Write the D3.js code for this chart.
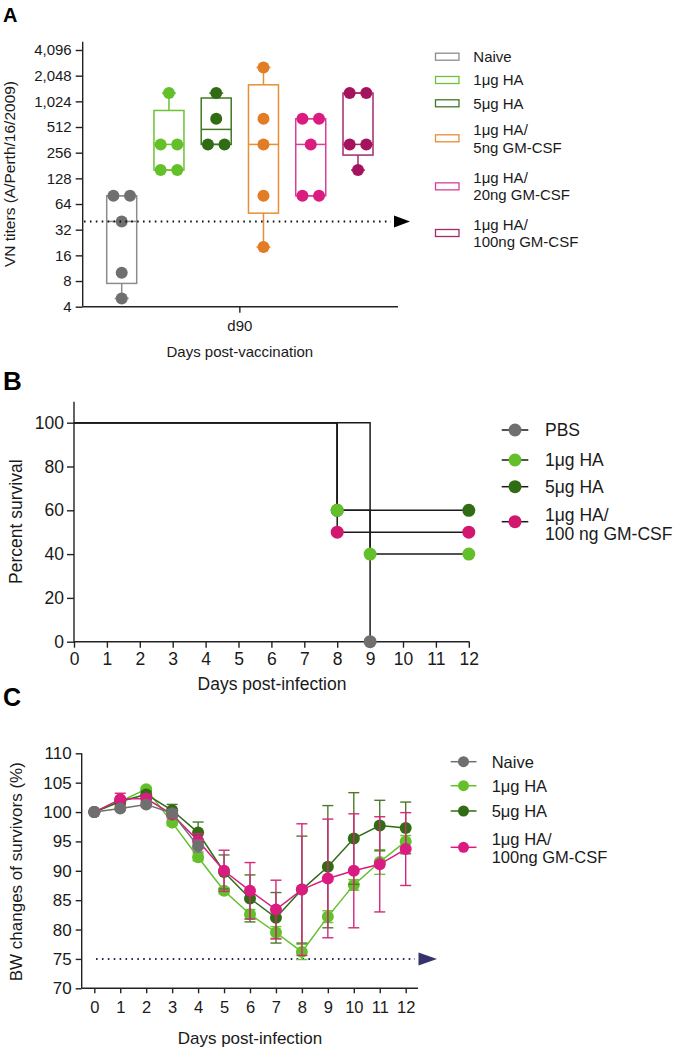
<!DOCTYPE html>
<html><head><meta charset="utf-8">
<script src="https://cdn.jsdelivr.net/npm/d3@7"></script>
<style>
html,body{margin:0;padding:0;background:#fff;}
text{font-family:"Liberation Sans",Arial,sans-serif;fill:#1a1a1a;}
</style></head>
<body><svg id="c" width="682" height="1050"></svg>
<script>
// ---------- Panel A data ----------
const groupsA = ["Naive","1μg HA","5μg HA","1μg HA/5ng GM-CSF","1μg HA/20ng GM-CSF","1μg HA/100ng GM-CSF"];
const legendA = [["Naive"],["1μg HA"],["5μg HA"],["1μg HA/","5ng GM-CSF"],["1μg HA/","20ng GM-CSF"],["1μg HA/","100ng GM-CSF"]];
const titersNaive = [80,80,40,10,5];
const titers1HA = [1280,320,320,160,160];
const titers5HA = [1280,640,320,320];
const titers5ng = [2560,640,320,80,20];
const titers20ng = [640,640,320,80,80];
const titers100ng = [1280,1280,320,320,160];
const titersA = [titersNaive,titers1HA,titers5HA,titers5ng,titers20ng,titers100ng];
const yTicksA = [4,8,16,32,64,128,256,512,1024,2048,4096];
const cutoffA = 40;
const xLabelA = "d90";

// ---------- Panel B data ----------
const seriesB = ["PBS","1μg HA","5μg HA","1μg HA/100 ng GM-CSF"];
const legendB = [["PBS"],["1μg HA"],["5μg HA"],["1μg HA/","100 ng GM-CSF"]];
const daysPBS = [0,9];      const survPBS = [100,0];
const days1HA = [0,8,9,12]; const surv1HA = [100,60,40,40];
const days5HA = [0,8,12];   const surv5HA = [100,60,60];
const days100 = [0,8,12];   const surv100 = [100,50,50];
const xTicksB = [0,1,2,3,4,5,6,7,8,9,10,11,12];
const yTicksB = [0,20,40,60,80,100];

// ---------- Panel C data ----------
const seriesC = ["Naive","1μg HA","5μg HA","1μg HA/100ng GM-CSF"];
const legendC = [["Naive"],["1μg HA"],["5μg HA"],["1μg HA/","100ng GM-CSF"]];
const daysC = [0,1,2,3,4,5,6,7,8,9,10,11,12];
const bwNaive = [100,100.6,101.3,99.8,94.2];
const sdNaive = [0,0.3,0.4,0.6,1.0];
const bw1HA = [100,101.8,103.9,98.2,92.3,86.6,82.6,79.5,76.2,82.2,87.6,91.5,95.0];
const sd1HA = [0,0.5,0.3,0.5,0.6,0.5,0.8,1.0,1.3,1.0,0.9,2.1,1.0];
const bw5HA = [100,101.8,103.0,100.3,96.5,89.8,85.3,82.0,86.8,90.7,95.5,97.7,97.3];
const sd5HA = [0,0.6,0.5,1.0,1.8,2.9,4.0,4.3,9.1,10.4,7.8,4.3,4.4];
const bw100 = [100,102.2,102.3,99.6,95.1,90.0,86.6,83.4,86.8,88.7,90.0,91.1,93.7];
const sd100 = [0,1.0,0.7,0.6,1.2,3.5,4.8,5.0,11.2,10.1,9.7,8.1,6.2];
const yTicksC = [70,75,80,85,90,95,100,105,110];
const cutoffC = 75;

// ---------- colours ----------
const colGrey="#6f6f6f", colLG="#63c02b", colDG="#2f6c13", colOr="#e27d26", colPk="#da1c80", colPu="#a5135f";
const boxColA = ["#8c8c8c","#6cc334","#3f7a22","#e68f36","#d83f98","#a32a6c"];
const ptColA = [colGrey,colLG,colDG,colOr,colPk,colPu];

const svg = d3.select("#c");
const axisCol = "#222";

function panelLabel(t,x,y,size){svg.append("text").attr("x",x).attr("y",y).attr("font-size",size).attr("font-weight","bold").style("fill","#000").text(t);}

// ================= Panel A =================
panelLabel("A",3,21.7,20);
const yA = d3.scaleLog().base(2).domain([4,4096]).range([306.7,50]);
const xA = d3.scalePoint().domain(groupsA).range([121.7,358]);
const gA = svg.append("g");
// y axis
const yAxA = gA.append("g").attr("transform","translate(82.7,0)")
  .call(d3.axisLeft(yA).tickValues(yTicksA).tickFormat(d3.format(",")).tickSize(7).tickPadding(4));
yAxA.select(".domain").remove();
yAxA.selectAll(".tick line").attr("stroke",axisCol).attr("stroke-width",1.4);
yAxA.selectAll("text").attr("font-size",15).style("font-family",'"Liberation Sans",Arial,sans-serif').style("fill","#1a1a1a");
gA.append("line").attr("x1",82.7).attr("x2",82.7).attr("y1",41.7).attr("y2",yA(4)).attr("stroke",axisCol).attr("stroke-width",1.4);
gA.append("line").attr("x1",82.7).attr("x2",398).attr("y1",yA(4)).attr("y2",yA(4)).attr("stroke",axisCol).attr("stroke-width",1.4);
const xMidA = (xA(groupsA[2])+xA(groupsA[3]))/2;
gA.append("line").attr("x1",xMidA).attr("x2",xMidA).attr("y1",yA(4)).attr("y2",yA(4)+6).attr("stroke",axisCol).attr("stroke-width",1.4);
gA.append("text").attr("x",xMidA).attr("y",330.5).attr("text-anchor","middle").attr("font-size",15).text(xLabelA);
gA.append("text").attr("x",xMidA).attr("y",357).attr("text-anchor","middle").attr("font-size",15).text("Days post-vaccination");
gA.append("text").attr("transform","translate(14.5,174) rotate(-90)").attr("text-anchor","middle").attr("font-size",15.5).text("VN titers (A/Perth/16/2009)");

function quant(sorted,p){ // GraphPad (n+1) method
  const n=sorted.length, pos=(n+1)*p;
  if(pos<=1) return sorted[0]; if(pos>=n) return sorted[n-1];
  const lo=Math.floor(pos), f=pos-lo; return sorted[lo-1]+f*(sorted[lo]-sorted[lo-1]);
}
const bw=15;
groupsA.forEach((g,i)=>{
  const vals = titersA[i].slice().sort((a,b)=>a-b);
  const q1=quant(vals,0.25), med=quant(vals,0.5), q3=quant(vals,0.75);
  const cx=xA(g), c=boxColA[i];
  const gg=gA.append("g");
  // whiskers
  gg.append("line").attr("x1",cx).attr("x2",cx).attr("y1",yA(vals[vals.length-1])).attr("y2",yA(q3)).attr("stroke",c).attr("stroke-width",1.5);
  gg.append("line").attr("x1",cx).attr("x2",cx).attr("y1",yA(vals[0])).attr("y2",yA(q1)).attr("stroke",c).attr("stroke-width",1.5);
  [vals[0],vals[vals.length-1]].forEach(v=>gg.append("line").attr("x1",cx-7).attr("x2",cx+7).attr("y1",yA(v)).attr("y2",yA(v)).attr("stroke",c).attr("stroke-width",1.5));
  gg.append("rect").attr("x",cx-bw).attr("y",yA(q3)).attr("width",2*bw).attr("height",yA(q1)-yA(q3)).attr("fill","none").attr("stroke",c).attr("stroke-width",1.5);
  gg.append("line").attr("x1",cx-bw).attr("x2",cx+bw).attr("y1",yA(med)).attr("y2",yA(med)).attr("stroke",c).attr("stroke-width",1.5);
  // points with duplicate offsets
  const counts=d3.rollup(vals,v=>v.length,d=>d);
  const seen=new Map();
  vals.forEach(v=>{
    const n=counts.get(v), k=seen.get(v)||0; seen.set(v,k+1);
    const off = n===1?0:(k-(n-1)/2)*16.6;
    gg.append("circle").attr("cx",cx+off).attr("cy",yA(v)).attr("r",6).attr("fill",ptColA[i]);
  });
});
// cutoff dotted line with arrow
gA.append("line").attr("x1",84).attr("x2",391).attr("y1",yA(cutoffA)).attr("y2",yA(cutoffA)).attr("stroke","#111").attr("stroke-width",2).attr("stroke-dasharray","1.6,4.3");
gA.append("path").attr("d",`M394,${yA(cutoffA)-6} L410,${yA(cutoffA)} L394,${yA(cutoffA)+6}Z`).attr("fill","#000");
// legend A
const legA = svg.append("g");
const legAY = [[56.7],[80],[103.3],[129.3,147.3],[177.7,195],[224.3,241.7]];
legendA.forEach((lines,i)=>{
  const ys=legAY[i], sy=d3.mean(ys);
  legA.append("rect").attr("x",435.5).attr("y",sy-3.5).attr("width",23.5).attr("height",7).attr("fill","none").attr("stroke",boxColA[i]).attr("stroke-width",1.3);
  lines.forEach((t,j)=>legA.append("text").attr("x",473.3).attr("y",ys[j]+5.3).attr("font-size",15).text(t));
});

// ================= Panel B =================
panelLabel("B",3,389.5,26);
const xB = d3.scaleLinear().domain([0,12]).range([74,468.8]);
const yB = d3.scaleLinear().domain([0,100]).range([641.7,422.7]);
const gB = svg.append("g");
const yAxB = gB.append("g").attr("transform","translate(74,0)").call(d3.axisLeft(yB).tickValues(yTicksB).tickSize(7).tickPadding(3));
yAxB.select(".domain").remove();
yAxB.selectAll(".tick line").attr("stroke",axisCol).attr("stroke-width",1.4);
yAxB.selectAll("text").attr("font-size",17.5).style("font-family",'"Liberation Sans",Arial,sans-serif').style("fill","#1a1a1a");
const xAxB = gB.append("g").attr("transform","translate(0,641.7)").call(d3.axisBottom(xB).tickValues(xTicksB).tickSize(6).tickPadding(5));
xAxB.select(".domain").remove();
xAxB.selectAll(".tick line").attr("stroke",axisCol).attr("stroke-width",1.4);
xAxB.selectAll("text").attr("font-size",17.5).style("font-family",'"Liberation Sans",Arial,sans-serif').style("fill","#1a1a1a");
gB.append("line").attr("x1",74).attr("x2",74).attr("y1",401.7).attr("y2",641.7).attr("stroke",axisCol).attr("stroke-width",1.4);
gB.append("line").attr("x1",74).attr("x2",469.5).attr("y1",641.7).attr("y2",641.7).attr("stroke",axisCol).attr("stroke-width",1.4);
gB.append("text").attr("x",272).attr("y",690).attr("text-anchor","middle").attr("font-size",17.5).text("Days post-infection");
gB.append("text").attr("transform","translate(21.5,521.7) rotate(-90)").attr("text-anchor","middle").attr("font-size",17.5).text("Percent survival");
const colB = [colGrey,colLG,colDG,"#d2176f"];
const dataB = [[daysPBS,survPBS],[days1HA,surv1HA],[days5HA,surv5HA],[days100,surv100]];
const stepLine = d3.line().x(d=>xB(d[0])).y(d=>yB(d[1])).curve(d3.curveStepAfter);
const orderB=[0,2,1,3];
orderB.forEach(i=>{
  const pts=dataB[i][0].map((d,k)=>[d,dataB[i][1][k]]);
  gB.append("path").attr("d",stepLine(pts)).attr("fill","none").attr("stroke","#1a1a1a").attr("stroke-width",1.5);
});
orderB.forEach(i=>{
  const pts=dataB[i][0].map((d,k)=>[d,dataB[i][1][k]]).slice(1);
  pts.forEach(p=>gB.append("circle").attr("cx",xB(p[0])).attr("cy",yB(p[1])).attr("r",6.5).attr("fill",colB[i]));
});
// legend B
const legBY=[[430],[460],[486.7],[515,533.3]];
legendB.forEach((lines,i)=>{
  const ys=legBY[i], sy=i===3?521.7:ys[0];
  svg.append("line").attr("x1",501.7).attr("x2",528.3).attr("y1",sy).attr("y2",sy).attr("stroke","#1a1a1a").attr("stroke-width",1.5);
  svg.append("circle").attr("cx",515).attr("cy",sy).attr("r",6.5).attr("fill",colB[i]);
  lines.forEach((t,j)=>svg.append("text").attr("x",545).attr("y",ys[j]+6.2).attr("font-size",17.5).text(t));
});

// ================= Panel C =================
panelLabel("C",3,706,25);
const xC = d3.scaleLinear().domain([0,12]).range([94.3,405.7]);
const yC = d3.scaleLinear().domain([70,110]).range([988.3,753.3]);
const gC = svg.append("g");
const yAxC = gC.append("g").attr("transform","translate(81.7,0)").call(d3.axisLeft(yC).tickValues(yTicksC).tickSize(6).tickPadding(4));
yAxC.select(".domain").remove();
yAxC.selectAll(".tick line").attr("stroke",axisCol).attr("stroke-width",1.4);
yAxC.selectAll("text").attr("font-size",17).style("font-family",'"Liberation Sans",Arial,sans-serif').style("fill","#1a1a1a");
const xAxC = gC.append("g").attr("transform","translate(0,988.3)").call(d3.axisBottom(xC).tickValues(daysC).tickSize(5).tickPadding(8));
xAxC.select(".domain").remove();
xAxC.selectAll(".tick line").attr("stroke",axisCol).attr("stroke-width",1.4);
xAxC.selectAll("text").attr("font-size",16.5).style("font-family",'"Liberation Sans",Arial,sans-serif').style("fill","#1a1a1a");
gC.append("line").attr("x1",81.7).attr("x2",81.7).attr("y1",753.3).attr("y2",988.3).attr("stroke",axisCol).attr("stroke-width",1.4);
gC.append("line").attr("x1",81.7).attr("x2",418).attr("y1",988.3).attr("y2",988.3).attr("stroke",axisCol).attr("stroke-width",1.4);
gC.append("text").attr("x",250).attr("y",1044).attr("text-anchor","middle").attr("font-size",17).text("Days post-infection");
gC.append("text").attr("transform","translate(21.5,871.7) rotate(-90)").attr("text-anchor","middle").attr("font-size",17).text("BW changes of survivors (%)");
// cutoff
gC.append("line").attr("x1",96).attr("x2",415).attr("y1",yC(cutoffC)).attr("y2",yC(cutoffC)).attr("stroke","#2a2a55").attr("stroke-width",2).attr("stroke-dasharray","1.6,4.3");
gC.append("path").attr("d",`M418.5,${yC(cutoffC)-6.5} L437,${yC(cutoffC)} L418.5,${yC(cutoffC)+6.5}Z`).attr("fill","#34336e");

const colC = [colGrey,colLG,colDG,colPk];
const errColC = ["#777","#6cc334","#4d7a2a","#d2287c"];
const dataC = [[bwNaive,sdNaive],[bw1HA,sd1HA],[bw5HA,sd5HA],[bw100,sd100]];
const lineC = d3.line().x(d=>xC(d[0])).y(d=>yC(d[1]));
[1,2,3,0].forEach(i=>{
  const [m,s]=dataC[i];
  const pts=m.map((v,k)=>[daysC[k],v,s[k]]);
  const g=gC.append("g");
  pts.forEach(p=>{
    if(p[2]>0){
      const x=xC(p[0]);
      g.append("line").attr("x1",x).attr("x2",x).attr("y1",yC(p[1]+p[2])).attr("y2",yC(p[1]-p[2])).attr("stroke",errColC[i]).attr("stroke-width",1.4);
      [p[1]+p[2],p[1]-p[2]].forEach(v=>g.append("line").attr("x1",x-5.5).attr("x2",x+5.5).attr("y1",yC(v)).attr("y2",yC(v)).attr("stroke",errColC[i]).attr("stroke-width",1.4));
    }
  });
  g.append("path").attr("d",lineC(pts)).attr("fill","none").attr("stroke",colC[i]).attr("stroke-width",1.5);
  pts.forEach(p=>g.append("circle").attr("cx",xC(p[0])).attr("cy",yC(p[1])).attr("r",6).attr("fill",colC[i]));
});
// legend C
const legCY=[[761.7],[785.7],[811],[839,857.3]];
legendC.forEach((lines,i)=>{
  const ys=legCY[i], sy=i===3?847.3:ys[0];
  svg.append("line").attr("x1",450.7).attr("x2",476.5).attr("y1",sy).attr("y2",sy).attr("stroke",colC[i]).attr("stroke-width",1.5);
  svg.append("circle").attr("cx",463.5).attr("cy",sy).attr("r",5.5).attr("fill",colC[i]);
  lines.forEach((t,j)=>svg.append("text").attr("x",491.7).attr("y",ys[j]+6).attr("font-size",16.5).text(t));
});
</script></body></html>
